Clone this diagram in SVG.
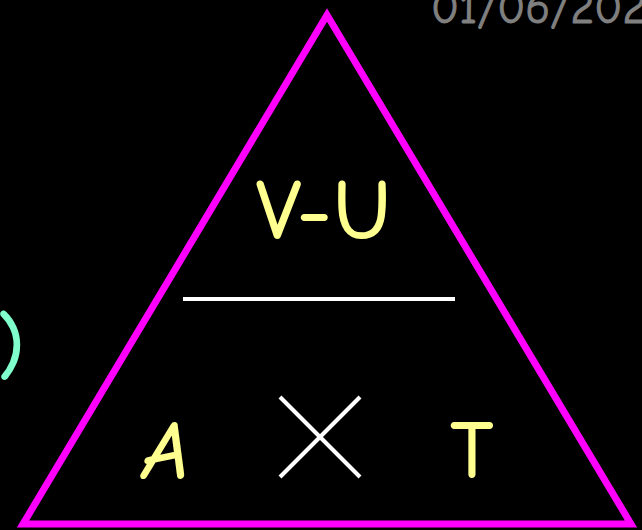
<svg xmlns="http://www.w3.org/2000/svg" width="642" height="530" viewBox="0 0 642 530">
<style>
.t{font-family:"Comic Neue","DejaVu Sans","Liberation Sans",sans-serif;}
.y{fill:#ffff90;stroke:#ffff90;stroke-width:2;stroke-linejoin:round;}
.w{stroke:#ffffff;stroke-width:4;fill:none;}
</style>
<rect x="0" y="0" width="642" height="530" fill="#000"/>
<g id="date"><text class="t" x="431" y="23" font-size="46" fill="#808080" stroke="#808080" stroke-width="1">01/06/202</text></g>
<g id="paren"><text class="t" x="-2" y="371" font-size="74" fill="#80ffcc" stroke="#80ffcc" stroke-width="2">)</text></g>
<g id="triangle"><polygon points="327,15 23,524 631,524" fill="none" stroke="#ff00ff" stroke-width="7" stroke-linejoin="miter"/></g>
<g id="vu"><text class="t y" x="325" y="238" font-size="82" text-anchor="middle" letter-spacing="3">V-U</text></g>
<g id="bar"><line class="w" x1="183" y1="299" x2="455" y2="299"/></g>
<g id="a"><text class="t y" x="166" y="478" font-size="80" text-anchor="middle" font-style="italic">A</text></g>
<g id="times"><line class="w" x1="280" y1="397" x2="360" y2="477"/><line class="w" x1="360" y1="397" x2="280" y2="477"/></g>
<g id="t"><text class="t y" x="472" y="477" font-size="80" text-anchor="middle">T</text></g>
</svg>
